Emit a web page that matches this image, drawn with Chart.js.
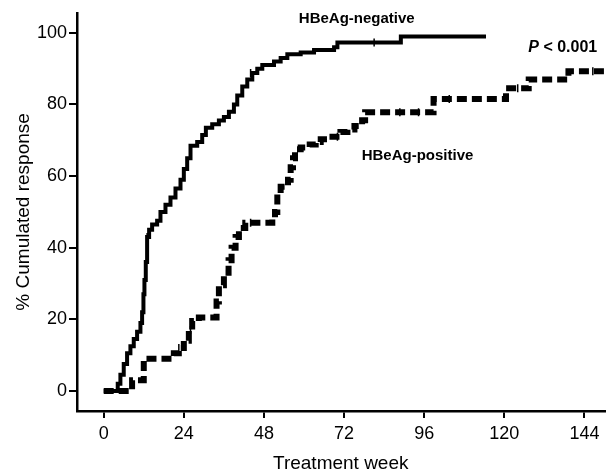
<!DOCTYPE html>
<html>
<head>
<meta charset="utf-8">
<script src="https://cdn.jsdelivr.net/npm/chart.js@4.4.1/dist/chart.umd.min.js"></script>
<style>
html,body{margin:0;padding:0;background:#fff;}
#wrap{width:610px;height:476px;}
</style>
</head>
<body>
<div id="wrap"><canvas id="c" width="610" height="476"></canvas></div>
<script>
// HBeAg-negative (solid) Kaplan-Meier style cumulative response
const negWeeks = [0, 4.2, 5, 6, 7, 8, 9, 10, 11, 11.5, 11.9, 12.2, 12.6, 13, 13.6, 14.5, 16, 17, 18.5, 20, 21.5, 23, 24, 25, 26, 28, 29.5, 30.6, 32.5, 34.5, 36, 37.5, 39, 40, 41.5, 43, 44.5, 46, 47.5, 51, 53, 55, 59, 63, 69, 70, 89, 114.5];
const negPct   = [0, 2,   4.5, 7.5, 10.5, 12.5, 14.5, 16.5, 19, 22, 27, 31, 36, 43, 45, 46.5, 47.5, 50, 52, 54, 56.5, 59, 62, 65, 68.5, 69.5, 71.5, 73.5, 74.5, 75.5, 76.5, 78, 80, 82.5, 85, 87, 88.8, 90, 91, 92, 93, 94, 94.5, 95.2, 96, 97.3, 99, 99];
// HBeAg-positive (dashed)
const posWeeks = [0, 8.5, 12, 21, 22.5, 24, 25.5, 26.5, 28.5, 33.8, 34.5, 36, 37.4, 38.3, 39.5, 40.5, 42.4, 50.5, 51.3, 52, 53, 55.2, 56, 56.7, 57.3, 59, 61.7, 63.5, 65, 67.1, 70.9, 73, 75.1, 77.4, 78.3, 98.8, 120.5, 127.3, 139.2, 152];
const posPct   = [0, 3,   9,  10.5, 12, 14, 17, 19.5, 20.5, 25, 29.5, 33, 36.5, 40, 43, 45.5, 47, 48.5, 50, 55, 57, 59, 62.5, 65, 67.5, 68, 68.8, 69.5, 70.3, 71, 72.3, 73, 74, 75.6, 77.8, 81.5, 84.5, 87, 89.3, 89.3];
// censor marks
const negCensorWeeks = [13, 44, 81];
const negCensorPct   = [43, 88.8, 97.3];
const posCensorWeeks = [22.5, 26, 44, 70, 88.7, 94.3, 103.5, 124, 146.5];
const posCensorPct   = [12, 17, 47, 71, 77.8, 77.8, 81.5, 84.5, 89.3];
// axis ticks
const xTicks = [0, 24, 48, 72, 96, 120, 144];
const yTicks = [0, 20, 40, 60, 80, 100];
// labels
const labels = [
  {text: 'HBeAg-negative', x: 75.8, y: 103.9},
  {text: 'HBeAg-positive', x: 94, y: 65.7},
];
const pLabel = {x: 137.5, y: 95.8};

const toXY = (xs, ys) => xs.map((x, i) => ({x: x, y: ys[i]}));
const FONT = "'Liberation Sans', Arial, sans-serif";

const annot = {
  id: 'annot',
  afterDatasetsDraw(chart) {
    const {ctx, scales: {x, y}} = chart;
    ctx.save();
    ctx.fillStyle = '#000';
    ctx.textBaseline = 'middle';
    ctx.textAlign = 'center';
    ctx.font = 'bold 15px ' + FONT;
    labels.forEach(l => ctx.fillText(l.text, x.getPixelForValue(l.x), y.getPixelForValue(l.y)));
    // P < 0.001 with italic P
    const px = x.getPixelForValue(pLabel.x), py = y.getPixelForValue(pLabel.y);
    ctx.font = 'italic bold 16px ' + FONT;
    const wP = ctx.measureText('P').width;
    ctx.font = 'bold 16px ' + FONT;
    const rest = ' < 0.001';
    const wR = ctx.measureText(rest).width;
    const start = px - (wP + wR) / 2;
    ctx.textAlign = 'left';
    ctx.font = 'italic bold 16px ' + FONT;
    ctx.fillText('P', start, py);
    ctx.font = 'bold 16px ' + FONT;
    ctx.fillText(rest, start + wP, py);
    ctx.restore();
  }
};

new Chart(document.getElementById('c'), {
  type: 'line',
  data: {
    datasets: [
      {label: 'HBeAg-negative', data: toXY(negWeeks, negPct), borderColor: '#000', borderWidth: 4, stepped: true, pointRadius: 0, fill: false},
      {label: 'HBeAg-positive', data: toXY(posWeeks, posPct), borderColor: '#000', borderWidth: 6, borderDash: [10, 5], stepped: true, pointRadius: 0, fill: false},
      {label: 'neg censored', data: toXY(negCensorWeeks, negCensorPct), showLine: false, pointStyle: 'line', rotation: 90, pointRadius: 4, borderColor: '#000', borderWidth: 1.5},
      {label: 'pos censored', data: toXY(posCensorWeeks, posCensorPct), showLine: false, pointStyle: 'line', rotation: 90, pointRadius: 4, borderColor: '#000', borderWidth: 1.5}
    ]
  },
  options: {
    responsive: false,
    animation: false,
    devicePixelRatio: 1,
    parsing: true,
    layout: {padding: {top: 12, right: 0, left: 0, bottom: 0}},
    plugins: {legend: {display: false}, tooltip: {enabled: false}},
    scales: {
      x: {
        type: 'linear', min: -8, max: 150,
        afterBuildTicks: s => { s.ticks = xTicks.map(v => ({value: v})); },
        afterFit: s => { s.height = 65; },
        border: {display: true, color: '#000', width: 2.5},
        grid: {drawOnChartArea: false, drawTicks: true, tickLength: 7, color: '#000', lineWidth: 2},
        ticks: {color: '#000', font: {family: FONT, size: 18}, padding: 5, maxRotation: 0, autoSkip: false},
        title: {display: true, text: 'Treatment week', color: '#000', font: {family: FONT, size: 19}, padding: {top: 0, bottom: 1}}
      },
      y: {
        type: 'linear', min: -5.6, max: 105.6,
        afterBuildTicks: s => { s.ticks = yTicks.map(v => ({value: v})); },
        afterFit: s => { s.width = 77; },
        border: {display: true, color: '#000', width: 2.5},
        grid: {drawOnChartArea: false, drawTicks: true, tickLength: 8, color: '#000', lineWidth: 2},
        ticks: {color: '#000', font: {family: FONT, size: 18}, padding: 2, autoSkip: false},
        title: {display: true, text: '% Cumulated response', color: '#000', font: {family: FONT, size: 19}, padding: {top: 12, bottom: 0}}
      }
    }
  },
  plugins: [annot]
});
</script>
</body>
</html>
